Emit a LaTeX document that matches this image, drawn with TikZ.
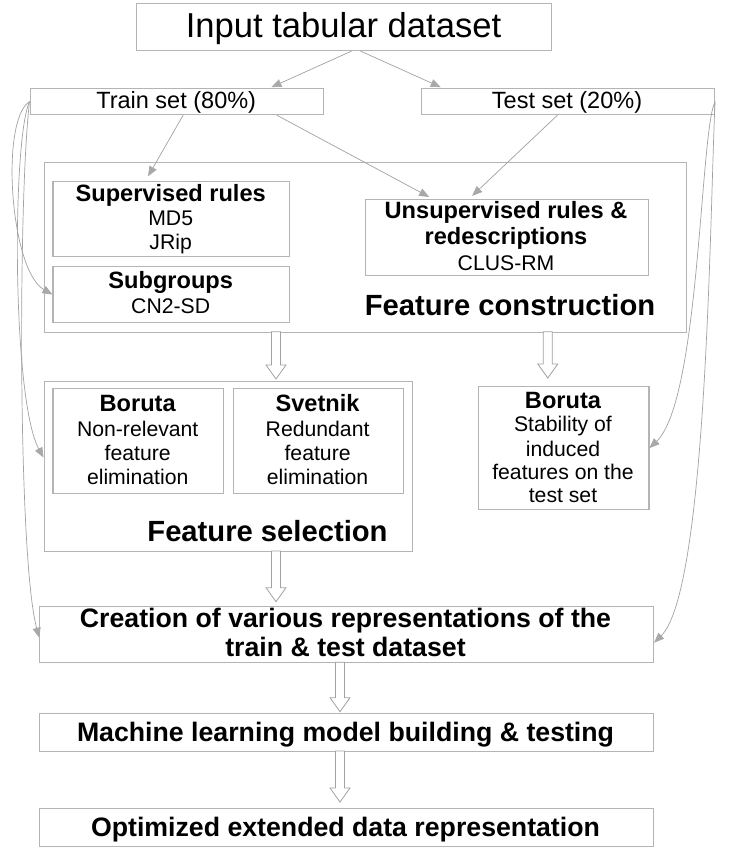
\documentclass[tikz,border=0pt]{standalone}
\usepackage{fontspec}
\setmainfont{Liberation Sans}
\usetikzlibrary{arrows.meta,calc}
\definecolor{boxgray}{HTML}{B4B4B4}
\definecolor{linegray}{HTML}{A2A2A2}
\definecolor{headgray}{HTML}{A8A8A8}
\newcommand\fatarrow[2]{\draw[fatarr] ($(#1)+(-4.5,0)$) -- ($(#2)+(-4.5,-14)$) -- ($(#2)+(-10,-14)$) -- (#2) -- ($(#2)+(10,-14)$) -- ($(#2)+(4.5,-14)$) -- ($(#1)+(4.5,0)$) -- cycle;}
\tikzset{
  box/.style={draw=boxgray, line width=1.1pt, rectangle, anchor=north west, inner sep=0pt},
  ttlA/.style={anchor=base, inner sep=0pt, font=\fontsize{34.6}{40}\selectfont},
  setT/.style={anchor=base, inner sep=0pt, font=\fontsize{23.5}{27}\selectfont},
  hd/.style={anchor=base, inner sep=0pt, font=\bfseries\fontsize{23.6}{28}\selectfont},
  sb/.style={anchor=base, inner sep=0pt, font=\fontsize{21.2}{25}\selectfont},
  big/.style={anchor=base, inner sep=0pt, font=\bfseries\fontsize{29.2}{34}\selectfont},
  mn/.style={anchor=base, inner sep=0pt, font=\bfseries\fontsize{26.7}{30}\selectfont},
  arr/.style={draw=linegray, line width=0.7pt, -{Triangle[length=10pt,width=8pt,fill=headgray,color=headgray]}},
  fatarr/.style={draw=linegray, line width=0.8pt, fill=white, line join=miter},
}
\begin{document}
\begin{tikzpicture}[x=1pt,y=-1pt]
\fill[white] (0,0) rectangle (734,856);
\useasboundingbox (0,0) rectangle (734,856);

% boxes
\node[box, minimum width=415pt, minimum height=47pt] (inp) at (136,3) {};
\node[box, minimum width=293.5pt, minimum height=26pt] (train) at (29.5,88) {};
\node[box, minimum width=293pt, minimum height=26pt] (test) at (421,88) {};
\node[box, minimum width=642.5pt, minimum height=170pt] (fc) at (43.5,161.7) {};
\node[box, minimum width=236.6pt, minimum height=75.3pt] (sup) at (52.4,180.7) {};
\node[box, minimum width=236.6pt, minimum height=56.6pt] (subg) at (52.4,265.7) {};
\node[box, minimum width=283pt, minimum height=75.7pt] (uns) at (365,199.3) {};
\node[box, minimum width=368.5pt, minimum height=170pt] (fs) at (43.5,381) {};
\node[box, minimum width=170.6pt, minimum height=104.7pt] (bor) at (52.4,388) {};
\node[box, minimum width=169.9pt, minimum height=104.7pt] (svt) at (232.7,388) {};
\node[box, minimum width=170.9pt, minimum height=123pt] (bor2) at (477.5,386) {};
\node[box, minimum width=613.7pt, minimum height=56.3pt] (cre) at (39.3,606) {};
\node[box, minimum width=613.7pt, minimum height=37.7pt] (ml) at (39.3,713.3) {};
\node[box, minimum width=613.7pt, minimum height=37.4pt] (opt) at (39.3,808.3) {};

% texts
\node[ttlA] (inpT) at (343.5,38) {Input tabular dataset};
\node[setT] (trainT) at (176.2,109) {Train set (80\%)};
\node[setT] (testT) at (567,109) {Test set (20\%)};

\node[hd] (supT) at (170.7,201.7) {Supervised rules};
\node[sb] (supA) at (170.7,225.8) {MD5};
\node[sb] (supB) at (170.7,249) {JRip};

\node[hd] (subT) at (170.7,288) {Subgroups};
\node[sb] (subA) at (170.7,313) {CN2-SD};

\node[hd] (unsT) at (506,218.3) {Unsupervised rules \&};
\node[hd] (unsU) at (506,244.5) {redescriptions};
\node[sb] (unsA) at (506,270.5) {CLUS-RM};

\node[big] (fcT) at (510,315) {Feature construction};

\node[hd] (borT) at (137.7,411.7) {Boruta};
\node[sb] (borA) at (137.7,436) {Non-relevant};
\node[sb] (borB) at (137.7,460) {feature};
\node[sb] (borC) at (137.7,484) {elimination};

\node[hd] (svtT) at (317.6,411.7) {Svetnik};
\node[sb] (svtA) at (317.6,436) {Redundant};
\node[sb] (svtB) at (317.6,460) {feature};
\node[sb] (svtC) at (317.6,484) {elimination};

\node[hd] (bor2T) at (563,408) {Boruta};
\node[sb] (bor2A) at (563,431.7) {Stability of};
\node[sb] (bor2B) at (563,456) {induced};
\node[sb] (bor2C) at (563,479.3) {features on the};
\node[sb] (bor2D) at (563,502.7) {test set};

\node[big] (fsT) at (267.5,541.7) {Feature selection};

\node[mn] (creA) at (345.5,627.3) {Creation of various representations of the};
\node[mn] (creB) at (345.5,656.7) {train \& test dataset};
\node[mn] (mlT) at (345.5,741) {Machine learning model building \& testing};
\node[mn] (optT) at (345.5,836) {Optimized extended data representation};

% straight arrows
\draw[arr, shorten >=2pt] ($(inp.south)+(7.5,0)$) -- ($(train.north)+(92.8,0)$);
\draw[arr, shorten >=2pt] ($(inp.south)+(16.5,0)$) -- ($(test.north)+(-125.5,0)$);
\draw[arr, shorten >=5pt] ($(train.south)+(6.4,0)$) -- ($(sup.north)+(-25.7,0)$);
\draw[arr, shorten >=5pt] ($(train.south)+(99.8,0)$) -- ($(uns.north)+(-73.5,0)$);
\draw[arr, shorten >=5pt] ($(test.south)+(-10.5,0)$) -- ($(uns.north)+(-38.5,0)$);

% curved arrows
\draw[arr] (train.west) .. controls (0,120) and (10,270) .. (subg.west);
\draw[arr] (train.west) .. controls (12,140) and (12,400) .. ($(fs.west)+(0,-9)$);
\draw[arr] (train.west) .. controls (18,200) and (18,560) .. ($(cre.west)+(0,3)$);
\draw[arr] (test.east) .. controls (700,130) and (700,400) .. (bor2.east);
\draw[arr] (test.east) .. controls (710,200) and (708,590) .. ($(cre.east)+(0,8)$);

% hollow arrows
\coordinate (h1a) at (276,331.7);  \coordinate (h1b) at (276,379);
\coordinate (h2a) at (547.8,331.7); \coordinate (h2b) at (547.8,378);
\coordinate (h3a) at (276,551);    \coordinate (h3b) at (276,601.7);
\coordinate (h4a) at (340,662.3);  \coordinate (h4b) at (340,711.7);
\coordinate (h5a) at (340,751);    \coordinate (h5b) at (340,802);
\fatarrow{h1a}{h1b}
\fatarrow{h2a}{h2b}
\fatarrow{h3a}{h3b}
\fatarrow{h4a}{h4b}
\fatarrow{h5a}{h5b}
\end{tikzpicture}
\end{document}
